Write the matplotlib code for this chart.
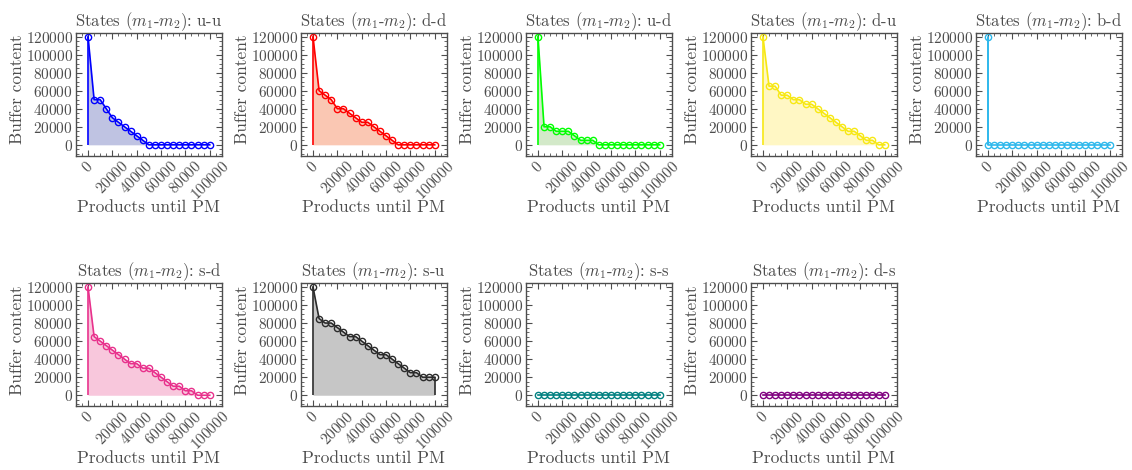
import numpy as np
import matplotlib
matplotlib.use('Agg')
import matplotlib.pyplot as plt
from matplotlib.ticker import MultipleLocator, AutoMinorLocator

plt.rcParams['font.family'] = 'serif'
plt.rcParams['font.serif'] = ['cmr10']
plt.rcParams['mathtext.fontset'] = 'cm'
plt.rcParams['axes.formatter.use_mathtext'] = True

# products until preventive maintenance
products = [0, 5000, 10000, 15000, 20000, 25000, 30000, 35000, 40000, 45000, 50000,
            55000, 60000, 65000, 70000, 75000, 80000, 85000, 90000, 95000, 100000]
# b-d drops straight down at the start
products_bd = [0] + products

states = ["u-u", "d-d", "u-d", "d-u", "b-d", "s-d", "s-u", "s-s", "d-s"]

buf_uu = [120000, 50000, 50000, 40000, 30000, 25000, 20000, 15000, 10000, 5000,
          0, 0, 0, 0, 0, 0, 0, 0, 0, 0, 0]
buf_dd = [120000, 60000, 55000, 50000, 40000, 40000, 35000, 30000, 25000, 25000,
          20000, 15000, 10000, 5000, 0, 0, 0, 0, 0, 0, 0]
buf_ud = [120000, 20000, 20000, 15000, 15000, 15000, 10000, 5000, 5000, 5000,
          0, 0, 0, 0, 0, 0, 0, 0, 0, 0, 0]
buf_du = [120000, 65000, 65000, 55000, 55000, 50000, 50000, 45000, 45000, 40000,
          35000, 30000, 25000, 20000, 15000, 15000, 10000, 5000, 5000, 0, 0]
buf_bd = [120000, 0, 0, 0, 0, 0, 0, 0, 0, 0, 0,
          0, 0, 0, 0, 0, 0, 0, 0, 0, 0, 0]
buf_sd = [120000, 65000, 60000, 55000, 50000, 45000, 40000, 35000, 35000, 30000,
          30000, 25000, 20000, 15000, 10000, 10000, 5000, 5000, 0, 0, 0]
buf_su = [120000, 85000, 80000, 80000, 75000, 70000, 65000, 65000, 60000, 55000,
          50000, 45000, 45000, 40000, 35000, 30000, 25000, 25000, 20000, 20000, 20000]
buf_ss = [0] * 21
buf_ds = [0] * 21

buffers = [buf_uu, buf_dd, buf_ud, buf_du, buf_bd, buf_sd, buf_su, buf_ss, buf_ds]
xs = [products, products, products, products, products_bd, products, products, products, products]
line_colors = ["blue", "red", "lime", "#f7e814", "#2db8ec", "#e8318c", "#2b2b2b", "teal", "purple"]
fill_colors = ["#bfc3e2", "#fac7b3", "#d3e9c9", "#fff7c4", "#cfeefa", "#f8c7dc", "#c6c6c6", "#c6e2e2", "#e2c6e2"]

grey = "#4d4d4d"

fig, axes = plt.subplots(2, 5, figsize=(11.32, 4.70), dpi=100)
fig.subplots_adjust(left=0.067, right=0.991, top=0.93, bottom=0.136, wspace=0.54, hspace=1.04)
axes = axes.flatten()

for ax, state, xv, buf, lc, fc in zip(axes, states, xs, buffers, line_colors, fill_colors):
    x = np.array(xv)
    y = np.array(buf)
    ax.fill_between(x, y, 0, color=fc, linewidth=0)
    ax.vlines([x[0], x[-1]], 0, [y[0], y[-1]], color=lc, linewidth=1.2)
    ax.plot(x, y, "-o", color=lc, markerfacecolor="none", markersize=4.5,
            markeredgewidth=1.0, linewidth=1.2)

    ax.set_xlim(-10000, 110000)
    ax.set_ylim(-12000, 124000)
    ax.xaxis.set_major_locator(MultipleLocator(20000))
    ax.xaxis.set_minor_locator(MultipleLocator(5000))
    ax.yaxis.set_major_locator(MultipleLocator(20000))
    ax.yaxis.set_minor_locator(AutoMinorLocator())
    ax.tick_params(which="both", direction="in", top=True, right=True,
                   colors=grey, labelsize=11, pad=2)
    ax.tick_params(which="major", length=4, width=0.8)
    ax.tick_params(which="minor", length=2, width=0.6)
    for lab in ax.get_xticklabels():
        lab.set_rotation(45)
    for sp in ax.spines.values():
        sp.set_color(grey)
        sp.set_linewidth(1.0)

    ax.set_title("States ($m_1$-$m_2$): " + state, fontsize=12, color=grey, pad=4)
    ax.set_xlabel("Products until PM", fontsize=12.5, color=grey)
    ax.set_ylabel("Buffer content", fontsize=12.5, color=grey)
    ax.xaxis.set_label_coords(0.5, -0.36)
    ax.yaxis.set_label_coords(-0.35, 0.54)

axes[-1].axis("off")

plt.savefig("out.png", dpi=100)
